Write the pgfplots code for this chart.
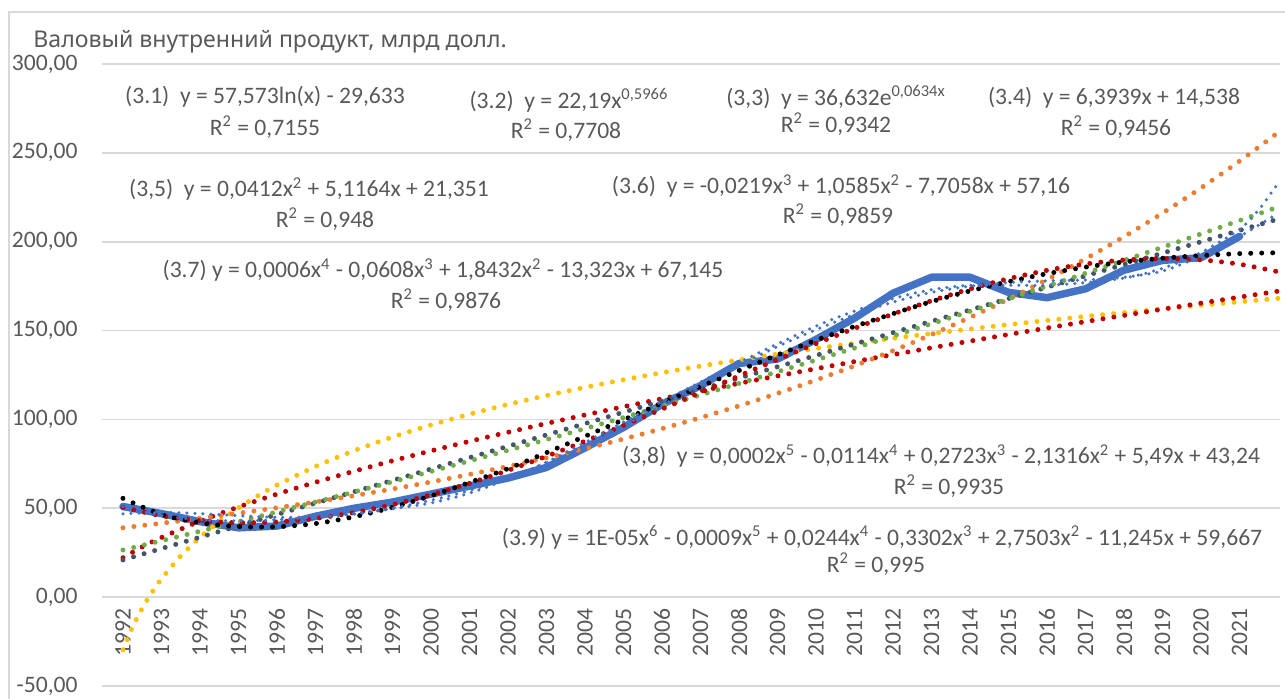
\documentclass[border=0pt]{standalone}
\usepackage{fontspec}
\setmainfont{Carlito}
\newfontfamily\titlefont{Noto Sans}
\usepackage{pgfplots}
\pgfplotsset{compat=1.18}
\definecolor{txt}{HTML}{595959}
\definecolor{gridc}{HTML}{D9D9D9}
\definecolor{cblue}{HTML}{4472C4}
\definecolor{corange}{HTML}{ED7D31}
\definecolor{cslate}{HTML}{44546A}
\definecolor{cyellow}{HTML}{FFC000}
\definecolor{cgreen}{HTML}{70AD47}
\definecolor{cred}{HTML}{C00000}
\newcommand\tf{\fontsize{11.8}{13}\selectfont}
\newcommand\lab[3]{\node[font=\tf, text=txt, inner sep=0pt] at ({#1*0.5pt},{349.5pt-#2*0.5pt}) {#3};}
\begin{document}
\begin{tikzpicture}
\useasboundingbox (0,0) rectangle (642.5pt,349.5pt);
\draw[gridc, line width=1pt] (4.5pt,0) -- (4.5pt,343.5pt) -- (642.5pt,343.5pt);
\begin{axis}[at={(51pt,6.5pt)}, anchor=south west, scale only axis,
  width=589pt, height=311pt,
  xmin=-0.545, xmax=30.05, ymin=-50, ymax=300,
  axis x line=middle, axis y line=left,
  x axis line style={draw=none}, y axis line style={draw=none},
  hide obscured x ticks=false, hide obscured y ticks=false,
  xtick={0,...,29},
  xticklabels={1992,1993,1994,1995,1996,1997,1998,1999,2000,2001,2002,2003,2004,2005,2006,2007,2008,2009,2010,2011,2012,2013,2014,2015,2016,2017,2018,2019,2020,2021},
  ytick={-50,0,50,100,150,200,250,300},
  yticklabels={{-50,00},{0,00},{50,00},{100,00},{150,00},{200,00},{250,00},{300,00}},
  major tick length=0pt,
  ymajorgrids, grid style={draw=gridc, line width=0.9pt},
  tick label style={font=\tf, text=txt},
  xticklabel style={rotate=90, anchor=east, inner xsep=5.5pt, inner ysep=0pt},
  yticklabel style={anchor=east, inner sep=0pt, xshift=-12pt},
  clip=false,
]
% data
\addplot[cblue, line width=3.75pt, line join=round, line cap=round] coordinates {
(0,51) (1,47) (2,42.5) (3,39) (4,40) (5,45.5) (6,50) (7,53.5) (8,58) (9,62.5)
(10,67) (11,73) (12,84) (13,95.5) (14,108.5) (15,119) (16,131.5) (17,134) (18,145) (19,157)
(20,171) (21,180) (22,180) (23,171.5) (24,168.5) (25,173.5) (26,184) (27,189.5) (28,191) (29,203)};
% (3.1) log
\addplot[cyellow, smooth, line width=2.5pt, line cap=round, dash pattern=on 0pt off 5.5pt] coordinates {
(0,-29.63) (0.25,-16.79) (0.5,-6.29) (0.75,2.59) (1,10.27) (1.5,23.12) (2,33.62) (2.5,42.50) (3,50.18) (3.5,56.96)
(4,63.02) (5,73.52) (6,82.40) (7,90.08) (8,96.87) (9,102.93) (10,108.42) (11,113.43) (12,118.04) (13,122.31)
(14,126.28) (15,130.00) (16,133.49) (17,136.78) (18,139.89) (19,142.84) (20,145.65) (21,148.33) (22,150.89)
(23,153.34) (24,155.69) (25,157.95) (26,160.12) (27,162.22) (28,164.24) (29,166.19) (30,168.08)};
% (3.2) power
\addplot[cred, smooth, line width=2.5pt, line cap=round, dash pattern=on 0pt off 5.5pt] coordinates {
(0,22.19) (0.5,28.26) (1,33.55) (2,42.74) (3,50.74) (4,57.97) (5,64.63) (6,70.85) (7,76.72) (8,82.31)
(9,87.65) (10,92.78) (11,97.72) (12,102.50) (13,107.14) (14,111.64) (15,116.02) (16,120.30) (17,124.47)
(18,128.55) (19,132.54) (20,136.47) (21,140.30) (22,144.07) (23,147.79) (24,151.42) (25,155.01) (26,158.54)
(27,162.01) (28,165.44) (29,168.83) (30,172.15)};
% (3.3) exp
\addplot[corange, smooth, line width=2.5pt, line cap=round, dash pattern=on 0pt off 5.5pt] coordinates {
(0,39.03) (1,41.58) (2,44.31) (3,47.20) (4,50.29) (5,53.59) (6,57.09) (7,60.83) (8,64.81) (9,69.05)
(10,73.57) (11,78.39) (12,83.52) (13,88.98) (14,94.80) (15,101.01) (16,107.62) (17,114.66) (18,122.16)
(19,130.16) (20,138.68) (21,147.75) (22,157.42) (23,167.73) (24,178.70) (25,190.40) (26,202.86)
(27,216.13) (28,230.28) (29,245.35) (30,261.41)};
% (3.4) linear
\addplot[cslate, line width=2.5pt, line cap=round, dash pattern=on 0pt off 5.5pt] coordinates {
(0,20.93) (30,212.75)};
% (3.5) quadratic
\addplot[cgreen, smooth, line width=2.5pt, line cap=round, dash pattern=on 0pt off 5.5pt] coordinates {
(0,26.51) (1,31.75) (2,37.07) (3,42.48) (4,47.96) (5,53.53) (6,59.18) (7,64.92) (8,70.74) (9,76.64)
(10,82.62) (11,88.68) (12,94.83) (13,101.06) (14,107.37) (15,113.76) (16,120.24) (17,126.80) (18,133.44)
(19,140.16) (20,146.96) (21,153.85) (22,160.82) (23,167.88) (24,175.01) (25,182.23) (26,189.53)
(27,196.91) (28,204.38) (29,211.92) (30,219.55)};
% (3.6) cubic
\addplot[cred, smooth, line width=2.5pt, line cap=round, dash pattern=on 0pt off 5.5pt] coordinates {
(0,50.49) (1,45.81) (2,42.98) (3,41.87) (4,42.36) (5,44.30) (6,47.57) (7,52.04) (8,57.58) (9,64.05)
(10,71.33) (11,79.27) (12,87.76) (13,96.65) (14,105.82) (15,115.14) (16,124.47) (17,133.69) (18,142.66)
(19,151.24) (20,159.32) (21,166.76) (22,173.42) (23,179.17) (24,183.89) (25,187.44) (26,189.69)
(27,190.51) (28,189.77) (29,187.34) (30,183.08)};
% (3.7) quartic
\addplot[black, smooth, line width=2.5pt, line cap=round, dash pattern=on 0pt off 5.5pt] coordinates {
(0,55.6) (1,46.5) (2,41.8) (3,39.7) (4,39.6) (5,41.4) (6,45.2) (7,50.5) (8,57) (9,64.5)
(10,72.3) (11,81.3) (12,90.5) (13,99.8) (14,109.2) (15,118.5) (16,127.5) (17,136.3) (18,144.5)
(19,152.3) (20,159.5) (21,166.3) (22,172.3) (23,177.5) (24,182) (25,185.7) (26,188.6) (27,190.7)
(28,192.2) (29,193.3) (30,193.8)};
% (3.8) 5th degree
\addplot[cblue, smooth, line width=1.75pt, line cap=round, dash pattern=on 0pt off 4pt] coordinates {
(0,46.86) (1,47.70) (2,47.00) (3,45.81) (4,44.94) (5,45.04) (6,46.61) (7,50.0) (8,54.5) (9,60)
(10,67) (11,75.5) (12,85.5) (13,96.5) (14,108) (15,119.5) (16,130.5) (17,141) (18,150.5)
(19,159) (20,166) (21,171.5) (22,175) (23,177) (24,178) (25,178.5) (26,180) (27,183.5)
(28,192) (29,203) (30,216)};
% (3.9) 6th degree
\addplot[cblue, smooth, line width=1.75pt, line cap=round, dash pattern=on 0pt off 4pt] coordinates {
(0,50.87) (1,45.90) (2,43.53) (3,42.92) (4,43.52) (5,44.98) (6,47.07) (7,49.7) (8,53) (9,58.5)
(10,66.5) (11,76) (12,87) (13,98.5) (14,110) (15,121) (16,132) (17,142.5) (18,152.5)
(19,161) (20,168) (21,173) (22,175.5) (23,175.5) (24,175.5) (25,177) (26,179.5) (27,185)
(28,194) (29,207) (29.5,218) (30,233)};
\end{axis}
\node[font=\titlefont\fontsize{11.55}{13}\selectfont, text=txt, anchor=base west, inner sep=0pt] at (16.5pt,325.5pt) {Валовый внутренний продукт, млрд долл.};
\lab{265}{97}{(3.1)\ \ y = 57,573ln(x) - 29,633}
\lab{265}{127}{R\textsuperscript{2} = 0,7155}
\lab{569}{100}{(3.2)\ \ y = 22,19x\textsuperscript{0,5966}}
\lab{566}{130}{R\textsuperscript{2} = 0,7708}
\lab{836}{97}{(3,3)\ \ y = 36,632e\textsuperscript{0,0634x}}
\lab{836}{124}{R\textsuperscript{2} = 0,9342}
\lab{1114}{98}{(3.4)\ \ y = 6,3939x + 14,538}
\lab{1116}{127}{R\textsuperscript{2} = 0,9456}
\lab{309}{189}{(3,5)\ \ y = 0,0412x\textsuperscript{2} + 5,1164x + 21,351}
\lab{325}{219}{R\textsuperscript{2} = 0,948}
\lab{841}{186}{(3.6)\ \ y = -0,0219x\textsuperscript{3} + 1,0585x\textsuperscript{2} - 7,7058x + 57,16}
\lab{838}{215}{R\textsuperscript{2} = 0,9859}
\lab{443}{270}{(3.7) y = 0,0006x\textsuperscript{4} - 0,0608x\textsuperscript{3} + 1,8432x\textsuperscript{2} - 13,323x + 67,145}
\lab{446}{300}{R\textsuperscript{2} = 0,9876}
\lab{941}{456}{(3,8)\ \ y = 0,0002x\textsuperscript{5} - 0,0114x\textsuperscript{4} + 0,2723x\textsuperscript{3} - 2,1316x\textsuperscript{2} + 5,49x + 43,24}
\lab{949}{486}{R\textsuperscript{2} = 0,9935}
\lab{882}{537}{(3.9) y = 1E-05x\textsuperscript{6} - 0,0009x\textsuperscript{5} + 0,0244x\textsuperscript{4} - 0,3302x\textsuperscript{3} + 2,7503x\textsuperscript{2} - 11,245x + 59,667}
\lab{876}{564}{R\textsuperscript{2} = 0,995}
\end{tikzpicture}
\end{document}
